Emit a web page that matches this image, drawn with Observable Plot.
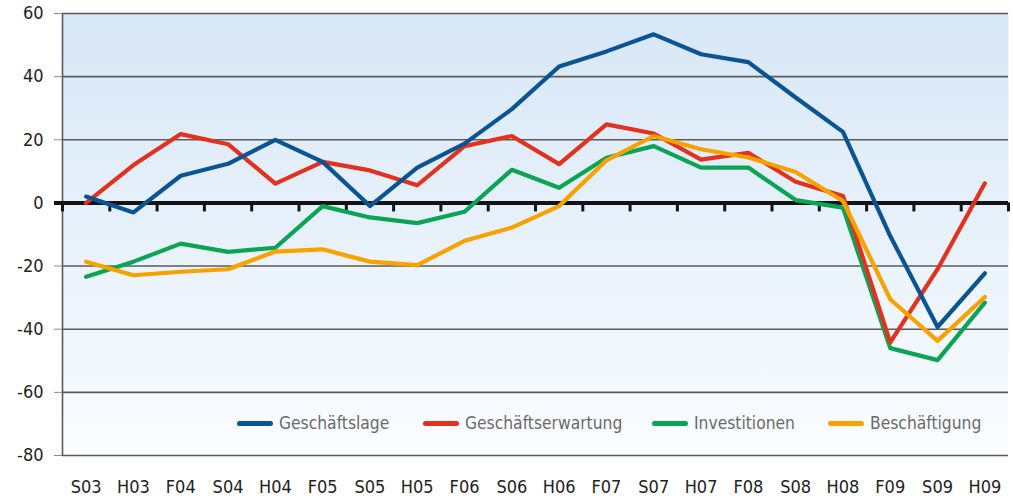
<!DOCTYPE html>
<html>
<head>
<meta charset="utf-8">
<script src="https://cdn.jsdelivr.net/npm/d3@7"></script>
<script src="https://cdn.jsdelivr.net/npm/@observablehq/plot@0.6"></script>
<style>
  body { margin: 0; background: #ffffff; }
  #wrap { position: relative; width: 1013px; height: 501px; font-family: "Liberation Sans Narrow", "DejaVu Sans Condensed", "Roboto", sans-serif; }
  .legend { position: absolute; top: 413px; left: 0; height: 22px; }
  .item { position: absolute; top: 0; display: flex; align-items: center; white-space: nowrap; font-size: 17.3px; color: #6a6a6a; }
  .sw { width: 36px; height: 5px; border-radius: 3px; margin-right: 6px; }
</style>
</head>
<body>
<div id="wrap"></div>
<script>
const categories = ["S03","H03","F04","S04","H04","F05","S05","H05","F06","S06","H06","F07","S07","H07","F08","S08","H08","F09","S09","H09"];
const geschaeftslage      = [2, -3, 8.6, 12.4, 20, 13, -1, 11.2, 18.8, 29.7, 43.2, 48, 53.4, 47.1, 44.6, 33.4, 22.5, -10.5, -39.3, -22.3];
const geschaeftserwartung = [0, 12, 21.8, 18.6, 6.1, 13, 10.3, 5.6, 18, 21.2, 12.3, 24.9, 22, 13.7, 15.9, 6.7, 2.2, -44.2, -21, 6.2];
const investitionen       = [-23.4, -18.6, -12.9, -15.5, -14.2, -1, -4.6, -6.4, -2.8, 10.5, 4.8, 14.3, 18, 11.2, 11.2, 0.9, -1.5, -46, -49.8, -31.6];
const beschaeftigung      = [-18.6, -22.9, -21.8, -21, -15.4, -14.7, -18.6, -19.7, -12, -7.8, -1, 13.5, 21.2, 17, 14.4, 9.8, 0.6, -30.5, -43.7, -29.8];
const seriesNames  = ["Geschäftslage", "Geschäftserwartung", "Investitionen", "Beschäftigung"];
const seriesValues = [geschaeftslage, geschaeftserwartung, investitionen, beschaeftigung];
const seriesColors = ["#0b5494", "#e2321f", "#0ba455", "#f8a200"];
const drawOrder    = [2, 1, 0, 3];
const yTicks = [-80, -60, -40, -20, 0, 20, 40, 60];
const legendLeft = [237, 423, 652, 828];

const rows = [];
for (const s of drawOrder) {
  seriesValues[s].forEach((v, i) => rows.push({series: seriesNames[s], i, v, order: s}));
}
const idx = categories.map((c, i) => i);
const bounds = d3.range(categories.length + 1).map(i => i - 0.5);
const xDomain = [-0.5, categories.length - 0.5];

const defs = () => {
  const d = d3.create("svg:defs");
  const g = d.append("linearGradient").attr("id", "bgGrad").attr("x1", 0).attr("y1", 0).attr("x2", 0).attr("y2", 1);
  g.append("stop").attr("offset", "0%").attr("stop-color", "#d8e7f6");
  g.append("stop").attr("offset", "45%").attr("stop-color", "#e6f0fa");
  g.append("stop").attr("offset", "100%").attr("stop-color", "#fbfdff");
  return d.node();
};

const chart = Plot.plot({
  width: 1013,
  height: 501,
  marginLeft: 62,
  marginRight: 5,
  marginTop: 13,
  marginBottom: 46,
  style: {fontFamily: '"Liberation Sans Narrow", "DejaVu Sans Condensed", Roboto, sans-serif', fontSize: "18px", color: "#222", background: "transparent"},
  x: {type: "linear", domain: xDomain, label: null},
  y: {domain: [-80, 60], label: null},
  color: {domain: seriesNames, range: seriesColors},
  marks: [
    defs,
    Plot.frame({fill: "url(#bgGrad)", stroke: "none"}),
    Plot.ruleY(yTicks.filter(t => t !== 0), {stroke: "#5a5a5a", strokeWidth: 1.6}),
    Plot.ruleX([xDomain[0]], {stroke: "#5a5a5a", strokeWidth: 1.6}),
    Plot.axisY(yTicks, {tickSize: 8, tickPadding: 11, stroke: "#8a8a8a", fill: "#222", fontSize: 18, tickFormat: d => String(d), label: null}),
    Plot.axisX(idx, {tickSize: 0, tickPadding: 25, tickFormat: i => categories[i], fill: "#222", fontSize: 18, label: null}),
    Plot.ruleY([0], {stroke: "#141414", strokeWidth: 4, insetLeft: -8}),
    Plot.ruleX(bounds, {y1: 0, y2: 0, insetTop: 0, insetBottom: -9, stroke: "#141414", strokeWidth: 3}),
    Plot.line(rows, {x: "i", y: "v", z: "series", stroke: "series", strokeWidth: 4.2, sort: null})
  ]
});

const wrap = document.getElementById("wrap");
wrap.appendChild(chart);
const legend = document.createElement("div");
legend.className = "legend";
seriesNames.forEach((name, k) => {
  const item = document.createElement("div");
  item.className = "item";
  item.style.left = legendLeft[k] + "px";
  const sw = document.createElement("span");
  sw.className = "sw";
  sw.style.background = seriesColors[k];
  const t = document.createElement("span");
  t.textContent = name;
  item.appendChild(sw);
  item.appendChild(t);
  legend.appendChild(item);
});
wrap.appendChild(legend);
</script>
</body>
</html>
